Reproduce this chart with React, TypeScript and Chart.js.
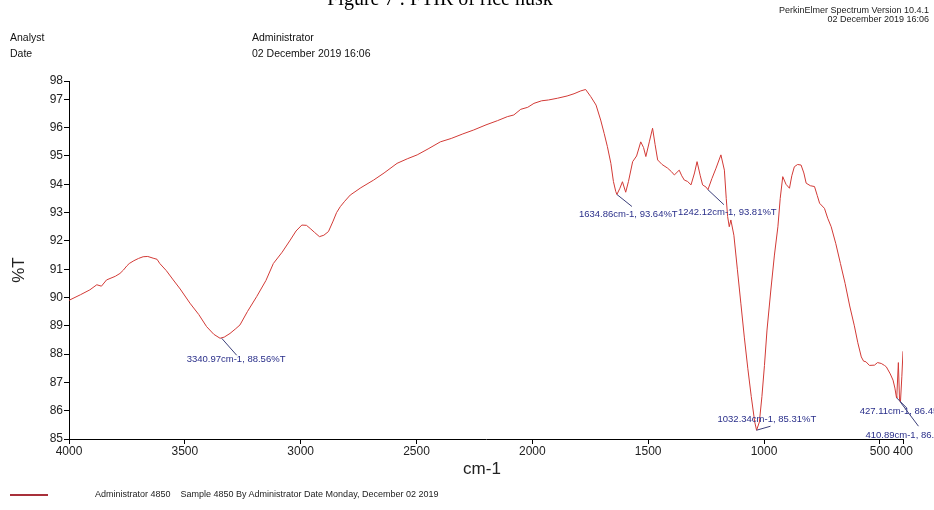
import React, { useEffect, useRef } from "react";
import { Chart, registerables } from "chart.js";

Chart.register(...registerables);

// Wavenumber (cm-1) and transmittance (%T)
const wavenumbers = [
  4000, 3950, 3910, 3880, 3860, 3838, 3800, 3780, 3765, 3750, 3740, 3720, 3700, 3680, 3660, 3637, 3620, 3608,
  3580, 3550, 3520, 3478, 3440, 3406, 3375, 3348, 3330, 3305, 3280, 3262, 3230, 3190, 3150, 3118, 3080, 3045,
  3020, 2995, 2975, 2959, 2940, 2919, 2900, 2880, 2860, 2845, 2829, 2810, 2786, 2740, 2685, 2640, 2584, 2540,
  2497, 2450, 2397, 2350, 2300, 2253, 2200, 2150, 2108, 2080, 2050, 2020, 1993, 1960, 1930, 1892, 1850, 1820,
  1791, 1770, 1748, 1725, 1705, 1690, 1676, 1661, 1650, 1640, 1635, 1622, 1611, 1597, 1585, 1567, 1550, 1532,
  1520, 1510, 1495, 1481, 1470, 1459, 1440, 1416, 1400, 1387, 1366, 1355, 1344, 1330, 1315, 1300, 1289, 1275,
  1265, 1250, 1242, 1225, 1207, 1186, 1171, 1163, 1157, 1150, 1143, 1130, 1115, 1100, 1085, 1070, 1055, 1040,
  1032, 1020, 1009, 998, 987, 970, 955, 940, 930, 919, 905, 890, 880, 869, 855, 840, 828, 818, 800, 782, 770,
  760, 739, 725, 710, 690, 670, 650, 630, 610, 595, 580, 570, 560, 545, 523, 510, 494, 480, 472, 455, 443, 435,
  429, 427, 420, 415, 411, 405, 400,
];
const transmittance = [
  89.9, 90.1, 90.27, 90.45, 90.4, 90.62, 90.75, 90.85, 90.97, 91.12, 91.2, 91.3, 91.38, 91.44, 91.45, 91.39, 91.35, 91.2,
  90.95, 90.62, 90.3, 89.8, 89.4, 88.97, 88.7, 88.56, 88.6, 88.73, 88.9, 89.03, 89.5, 90.03, 90.6, 91.2, 91.6, 92.03,
  92.35, 92.56, 92.55, 92.44, 92.3, 92.15, 92.2, 92.33, 92.7, 93.0, 93.21, 93.4, 93.62, 93.88, 94.15, 94.4, 94.74, 94.9,
  95.04, 95.25, 95.5, 95.62, 95.78, 95.92, 96.1, 96.25, 96.39, 96.45, 96.65, 96.72, 96.86, 96.95, 96.98, 97.04, 97.12, 97.2,
  97.3, 97.35, 97.1, 96.8, 96.27, 95.8, 95.33, 94.74, 94.1, 93.75, 93.64, 93.86, 94.09, 93.72, 94.1, 94.8, 95.0, 95.5,
  95.3, 94.98, 95.5, 95.98, 95.4, 94.86, 94.7, 94.57, 94.45, 94.33, 94.5, 94.3, 94.15, 94.1, 93.98, 94.4, 94.8, 94.3,
  93.98, 93.9, 93.81, 94.2, 94.57, 95.04, 94.5, 93.5, 92.86, 92.5, 92.74, 92.2, 91.0, 89.8, 88.6, 87.5, 86.5, 85.6,
  85.31, 85.6, 86.5, 87.6, 88.85, 90.3, 91.5, 92.5, 93.5, 94.27, 94.0, 93.86, 94.3, 94.62, 94.7, 94.68, 94.4, 94.04, 93.95, 93.92, 93.6,
  93.33, 93.15, 92.8, 92.5, 91.9, 91.2, 90.5, 89.7, 89.0, 88.4, 87.9, 87.75, 87.73, 87.6, 87.61, 87.7, 87.67, 87.6, 87.55, 87.3, 87.08, 86.8,
  86.5, 86.45, 87.7, 86.38, 86.3, 87.2, 88.1,
];

const xTickValues = [4000, 3500, 3000, 2500, 2000, 1500, 1000, 500, 400];
const xTickLabels = ["4000", "3500", "3000", "2500", "2000", "1500", "1000", "500", "400"];
const yTickValues = [85, 86, 87, 88, 89, 90, 91, 92, 93, 94, 95, 96, 97, 97.65];
const yTickLabels = ["85", "86", "87", "88", "89", "90", "91", "92", "93", "94", "95", "96", "97", "98"];

// Peak labels
const peakLabels = [
  "3340.97cm-1, 88.56%T",
  "1634.86cm-1, 93.64%T",
  "1242.12cm-1, 93.81%T",
  "1032.34cm-1, 85.31%T",
  "427.11cm-1, 86.45%T",
  "410.89cm-1, 86.30%T",
];
const peakWavenumbers = [3340.97, 1634.86, 1242.12, 1032.34, 427.11, 410.89];
const peakValues = [88.56, 93.64, 93.81, 85.31, 86.45, 86.3];

// leader line end & text start relative to the peak point (styling)
const peakLayout = [
  { lx: 15, ly: 17, tx: -35, ty: 21 },
  { lx: 15, ly: 12, tx: -38, ty: 20 },
  { lx: 16, ly: 15, tx: -30, ty: 23 },
  { lx: 14, ly: -4, tx: -39, ty: -11 },
  { lx: 10, ly: 10, tx: -37, ty: 13 },
  { lx: 18, ly: 24, tx: -35, ty: 33 },
];

const FONT = '"Liberation Sans", Arial, sans-serif';
const NARROW = '"Liberation Sans Narrow", "Liberation Sans", Arial, sans-serif';

const peakPlugin = {
  id: "peakLabels",
  afterDatasetsDraw(chart: any) {
    const ctx = chart.ctx;
    const xs = chart.scales.x;
    const ys = chart.scales.y;
    ctx.save();
    peakLabels.forEach((label, i) => {
      const px = xs.getPixelForValue(peakWavenumbers[i]);
      const py = ys.getPixelForValue(peakValues[i]);
      const l = peakLayout[i];
      ctx.strokeStyle = "#3b3f7a";
      ctx.lineWidth = 1;
      ctx.beginPath();
      ctx.moveTo(px, py);
      ctx.lineTo(px + l.lx, py + l.ly);
      ctx.stroke();
      ctx.fillStyle = "#2a2f8a";
      ctx.font = "9.5px " + FONT;
      ctx.textBaseline = "middle";
      ctx.textAlign = "left";
      ctx.fillText(label, px + l.tx, py + l.ty);
    });
    ctx.restore();
  },
};

export default function App() {
  const ref = useRef<HTMLCanvasElement | null>(null);

  useEffect(() => {
    if (!ref.current) return;
    const points = wavenumbers.map((w, i) => ({ x: w, y: transmittance[i] }));
    const chart = new Chart(ref.current, {
      type: "line",
      data: {
        datasets: [
          {
            label: "Administrator 4850",
            data: points,
            borderColor: "#d23a36",
            borderWidth: 1,
            pointRadius: 0,
            tension: 0,
            fill: false,
          },
        ],
      },
      options: {
        animation: false,
        responsive: false,
        maintainAspectRatio: false,
        layout: { padding: { left: 0, top: 81, right: 31, bottom: 51 } },
        plugins: {
          legend: { display: false },
          tooltip: { enabled: false },
          title: { display: false },
        },
        scales: {
          x: {
            type: "linear",
            reverse: true,
            min: 400,
            max: 4000,
            afterBuildTicks: (scale: any) => {
              scale.ticks = xTickValues.map((v) => ({ value: v }));
            },
            afterFit: (scale: any) => {
              scale.height = 20;
            },
            ticks: {
              autoSkip: false,
              maxRotation: 0,
              padding: 0,
              color: "#222",
              font: { family: FONT, size: 12 },
              callback: (v: any) => {
                const i = xTickValues.indexOf(Number(v));
                return i >= 0 ? xTickLabels[i] : "";
              },
            },
            grid: { display: true, drawOnChartArea: false, drawTicks: true, tickLength: 5, color: "#000" },
            border: { display: true, color: "#000", width: 1 },
          },
          y: {
            type: "linear",
            min: 85,
            max: 97.65,
            afterBuildTicks: (scale: any) => {
              scale.ticks = yTickValues.map((v) => ({ value: v }));
            },
            afterFit: (scale: any) => {
              scale.width = 69;
            },
            ticks: {
              autoSkip: false,
              padding: 1,
              color: "#222",
              font: { family: FONT, size: 12 },
              callback: (v: any) => {
                const i = yTickValues.indexOf(Number(v));
                return i >= 0 ? yTickLabels[i] : "";
              },
            },
            grid: { display: true, drawOnChartArea: false, drawTicks: true, tickLength: 5, color: "#000" },
            border: { display: true, color: "#000", width: 1 },
          },
        },
      },
      plugins: [peakPlugin],
    });
    return () => chart.destroy();
  }, []);

  const abs = (s: React.CSSProperties): React.CSSProperties => ({
    position: "absolute",
    whiteSpace: "nowrap",
    lineHeight: 1,
    ...s,
  });

  return (
    <div style={{ position: "fixed", left: 0, top: 0, width: 934, height: 510, background: "#fff", overflow: "hidden" }}>
      <canvas ref={ref} width={934} height={510} style={{ position: "absolute", left: 0, top: 0, width: 934, height: 510 }} />
      <div style={abs({ left: 440, top: -12, transform: "translateX(-50%)", fontFamily: '"Liberation Serif", "Times New Roman", serif', fontSize: 20, color: "#000" })}>
        Figure 7 : FTIR of rice husk
      </div>
      <div style={abs({ right: 5, top: 6, textAlign: "right", fontFamily: NARROW, fontSize: 9, color: "#222", lineHeight: "9px" })}>
        PerkinElmer Spectrum Version 10.4.1
        <br />
        02 December 2019 16:06
      </div>
      <div style={abs({ left: 10, top: 32, fontFamily: NARROW, fontSize: 10.5, color: "#111" })}>Analyst</div>
      <div style={abs({ left: 10, top: 48, fontFamily: NARROW, fontSize: 10.5, color: "#111" })}>Date</div>
      <div style={abs({ left: 252, top: 32, fontFamily: NARROW, fontSize: 10.5, color: "#111" })}>Administrator</div>
      <div style={abs({ left: 252, top: 48, fontFamily: NARROW, fontSize: 10.5, color: "#111" })}>02 December 2019 16:06</div>
      <div style={abs({ left: 18, top: 270, transform: "translate(-50%, -50%) rotate(-90deg)", fontFamily: FONT, fontSize: 17, color: "#222" })}>%T</div>
      <div style={abs({ left: 482, top: 468, transform: "translate(-50%, -50%)", fontFamily: FONT, fontSize: 17, color: "#222" })}>cm-1</div>
      <div style={abs({ left: 10, top: 494, width: 38, height: 2, background: "#a8303a" })} />
      <div style={abs({ left: 95, top: 490, fontFamily: NARROW, fontSize: 9, color: "#222" })}>
        Administrator 4850&nbsp;&nbsp;&nbsp;&nbsp;Sample 4850 By Administrator Date Monday, December 02 2019
      </div>
    </div>
  );
}
